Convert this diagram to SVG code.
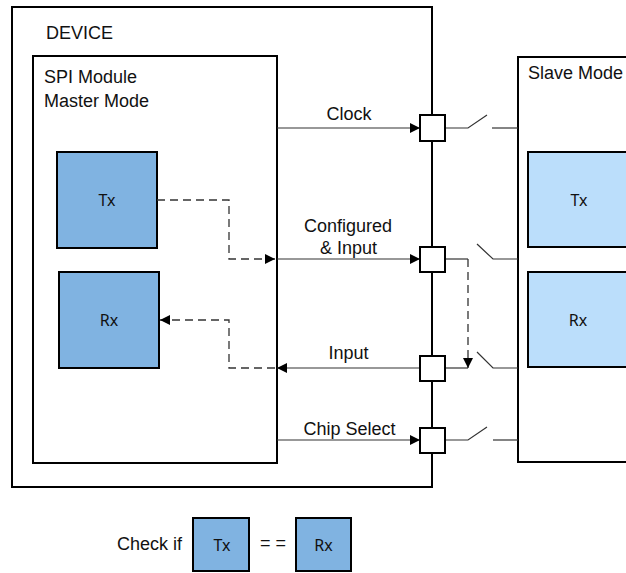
<svg xmlns="http://www.w3.org/2000/svg" width="626" height="573" viewBox="0 0 626 573">
  <style>
    .frame { fill: #ffffff; stroke: #000000; stroke-width: 2; }
    .master { fill: #80b3e1; stroke: #000000; stroke-width: 2; }
    .slave { fill: #bbdefb; stroke: #000000; stroke-width: 2; }
    .port { fill: #ffffff; stroke: #000000; stroke-width: 2; }
    .wire { fill: none; stroke: #333333; stroke-width: 1.2; }
    .dash { fill: none; stroke: #333333; stroke-width: 1.3; stroke-dasharray: 8 5; }
    .lbl { font-family: "Liberation Sans", Arial, sans-serif; font-size: 18px; fill: #111111; }
    .mid { text-anchor: middle; }
    .blk { font-family: "Noto Sans", "Liberation Sans", sans-serif; font-size: 16px; fill: #111111; text-anchor: middle; }
  </style>
  <defs>
    <marker id="arr" viewBox="0 0 10 10" refX="10" refY="5" markerWidth="10" markerHeight="10" markerUnits="userSpaceOnUse" orient="auto">
      <path d="M0,0 L10,5 L0,10 z" fill="#000000"/>
    </marker>
  </defs>

  <!-- device enclosure; its right edge is the pin bus -->
  <g id="device">
    <rect class="frame" x="12" y="7" width="420" height="480"/>
    <text class="lbl" x="46" y="39">DEVICE</text>
  </g>

  <!-- SPI module in master mode -->
  <g id="spi-master">
    <rect class="frame" x="33" y="56" width="244" height="407"/>
    <text class="lbl" x="44" y="83">SPI Module</text>
    <text class="lbl" x="44" y="107">Master Mode</text>
  </g>
  <g id="master-tx">
    <rect class="master" x="57" y="152" width="100" height="96"/>
    <text class="blk" x="107" y="206">Tx</text>
  </g>
  <g id="master-rx">
    <rect class="master" x="59" y="272" width="100" height="96"/>
    <text class="blk" x="109" y="326">Rx</text>
  </g>

  <!-- slave device on the right -->
  <g id="slave">
    <rect class="frame" x="518" y="57" width="120" height="405"/>
    <text class="lbl" x="528" y="79">Slave Mode</text>
  </g>
  <g id="slave-tx">
    <rect class="slave" x="528" y="152" width="100" height="95"/>
    <text class="blk" x="579" y="206">Tx</text>
  </g>
  <g id="slave-rx">
    <rect class="slave" x="528" y="272" width="100" height="95"/>
    <text class="blk" x="578" y="326">Rx</text>
  </g>

  <!-- signal lines, loopback paths and switches -->
  <g id="connectors">
    <!-- Clock -->
    <line class="wire" x1="277" y1="128" x2="420" y2="128" marker-end="url(#arr)"/>
    <polyline class="wire" points="445,128 468,128 487,115"/>
    <line class="wire" x1="492" y1="128" x2="518" y2="128"/>
    <!-- Configured & Input -->
    <line class="wire" x1="277" y1="259" x2="420" y2="259" marker-end="url(#arr)"/>
    <line class="wire" x1="445" y1="259" x2="468" y2="259"/>
    <polyline class="wire" points="477,244 493,259 518,259"/>
    <!-- Input -->
    <line class="wire" x1="445" y1="368" x2="277" y2="368" marker-end="url(#arr)"/>
    <line class="wire" x1="445" y1="368" x2="468" y2="368"/>
    <polyline class="wire" points="477,352 493,368 518,368"/>
    <!-- Chip Select -->
    <line class="wire" x1="277" y1="440" x2="420" y2="440" marker-end="url(#arr)"/>
    <polyline class="wire" points="445,440 468,440 487,427"/>
    <line class="wire" x1="493" y1="440" x2="518" y2="440"/>
    <!-- internal loopback: Tx out, Rx in -->
    <polyline class="dash" points="157,200 229,200 229,259 275,259" marker-end="url(#arr)"/>
    <polyline class="dash" points="275,368 229,368 229,320 160,320" marker-end="url(#arr)"/>
    <!-- external loopback from output pin back to input pin -->
    <line class="dash" x1="468" y1="259" x2="468" y2="368" marker-end="url(#arr)"/>
  </g>

  <!-- line labels -->
  <g id="labels">
    <text class="lbl mid" x="349" y="120">Clock</text>
    <text class="lbl mid" x="348" y="232">Configured</text>
    <text class="lbl mid" x="348.5" y="254">&amp; Input</text>
    <text class="lbl mid" x="348.5" y="359">Input</text>
    <text class="lbl mid" x="349.5" y="435">Chip Select</text>
  </g>

  <!-- pins on the device edge -->
  <g id="pins">
    <rect class="port" x="420" y="115" width="25" height="26"/>
    <rect class="port" x="420" y="247" width="25" height="25"/>
    <rect class="port" x="420" y="356" width="25" height="25"/>
    <rect class="port" x="420" y="428" width="25" height="25"/>
  </g>

  <!-- comparison legend -->
  <g id="check">
    <text class="lbl" x="117" y="550">Check if</text>
    <rect class="master" x="193" y="518" width="56" height="53"/>
    <text class="blk" x="222" y="551">Tx</text>
    <text class="lbl" x="260" y="549">= =</text>
    <rect class="master" x="296" y="518" width="55" height="53"/>
    <text class="blk" x="323.5" y="551">Rx</text>
  </g>
</svg>
